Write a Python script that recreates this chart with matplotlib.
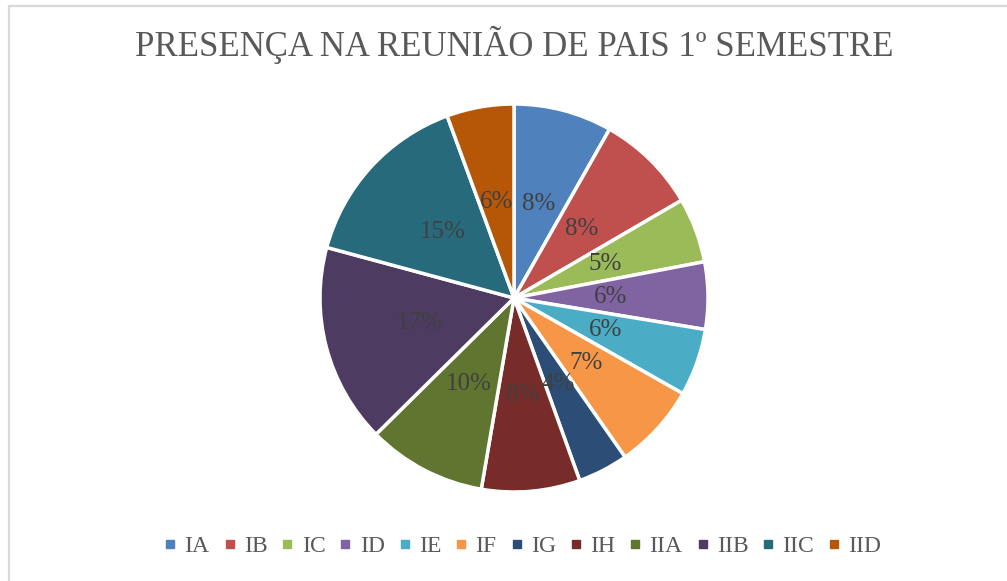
import matplotlib
matplotlib.use("Agg")
import matplotlib.pyplot as plt
from matplotlib.lines import Line2D
from matplotlib.patches import Rectangle

# share of attendance per class (percent)
classes = ["IA", "IB", "IC", "ID", "IE", "IF", "IG", "IH", "IIA", "IIB", "IIC", "IID"]
shares = [8.2, 8.4, 5.4, 5.6, 5.6, 7.1, 4.2, 8.2, 9.9, 16.6, 15.2, 5.6]
colors = ["#4F81BD", "#C0504D", "#9BBB59", "#8064A2", "#4BACC6", "#F79646",
          "#2C4D75", "#772C2A", "#5F7530", "#4D3B62", "#276A7C", "#B65708"]
title = "PRESENÇA NA REUNIÃO DE PAIS 1º SEMESTRE"

plt.rcParams["font.family"] = ["Liberation Serif", "DejaVu Serif"]

fig = plt.figure(figsize=(10.07, 5.81), dpi=100)

# light chart border (only top and left edges fall inside the image)
top = 1 - 6 / 581
fig.add_artist(Rectangle((8.5 / 1007, -0.1), 1.2, top + 0.1,
                         transform=fig.transFigure, fill=False,
                         edgecolor="#D9D9D9", linewidth=1.6))

fig.text(514 / 1007, 1 - 45 / 581, title, ha="center", va="center",
         fontsize=25, color="#595959")

ax = fig.add_axes([320 / 1007, 89 / 581, 388 / 1007, 388 / 581])
wedges, texts, autotexts = ax.pie(
    shares, colors=colors, startangle=90, counterclock=False,
    autopct="%.0f%%", pctdistance=0.5,
    wedgeprops=dict(edgecolor="white", linewidth=2.5),
    textprops=dict(fontsize=18, color="#404040"))
ax.set_xlim(-1, 1)
ax.set_ylim(-1, 1)
ax.set_aspect("equal")

handles = [Line2D([0], [0], marker="s", linestyle="none", markersize=6,
                  markerfacecolor=c, markeredgecolor=c) for c in colors]
fig.legend(handles, classes, loc="center", bbox_to_anchor=(523 / 1007, 1 - 546 / 581),
           ncol=len(classes), frameon=False, fontsize=17, labelcolor="#595959",
           handlelength=0.5, handletextpad=0.35, columnspacing=0.6)

fig.savefig("out.png", dpi=100)
